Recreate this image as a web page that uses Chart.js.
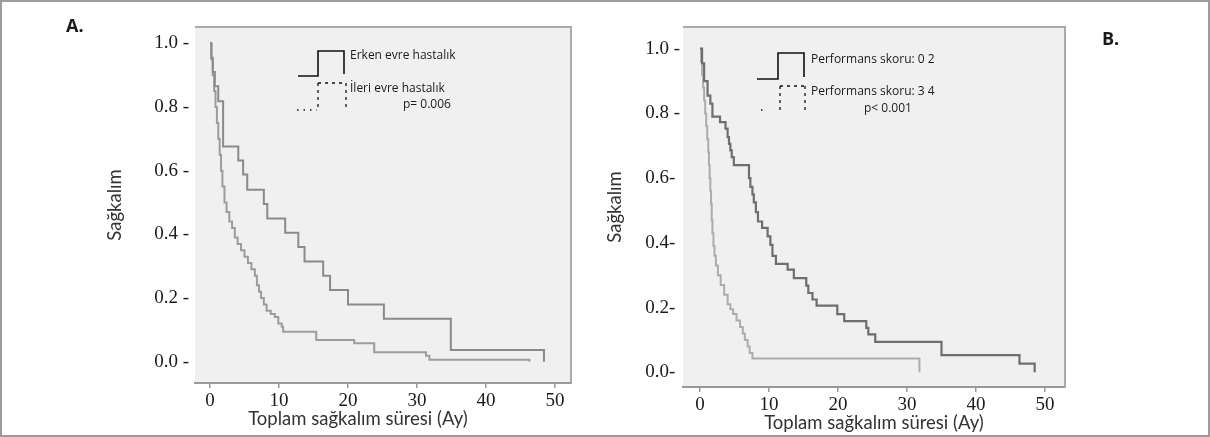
<!DOCTYPE html>
<html><head><meta charset="utf-8">
<script src="https://cdn.jsdelivr.net/npm/chart.js@4.4.1/dist/chart.umd.min.js"></script>
<style>
html,body{margin:0;padding:0;background:#fff;}
#wrap{position:relative;width:1210px;height:437px;overflow:hidden;background:#fff;}
#frame{position:absolute;left:0;top:0;width:1210px;height:437px;box-sizing:border-box;border:2px solid #9c9c9c;pointer-events:none;}
canvas{position:absolute;top:0;}
</style></head><body>
<div id="wrap">
<canvas id="cA" width="600" height="437" style="left:0px"></canvas>
<canvas id="cB" width="615" height="437" style="left:595px"></canvas>
<div id="frame"></div>
</div>
<script>
// ---------- data ----------
const xTicks = [0, 10, 20, 30, 40, 50];
const xTickLabels = ["0", "10", "20", "30", "40", "50"];
const yTicks = [0, 0.2, 0.4, 0.6, 0.8, 1.0];
const yTickLabelsA = ["0.0 -", "0.2 -", "0.4 -", "0.6 -", "0.8 -", "1.0 -"];
const yTickLabelsB = ["0.0- ", "0.2- ", "0.4- ", "0.6- ", "0.8 -", "1.0 -"];

// Panel A: Erken evre hastalık
const earlyTime = [0, 0.2, 0.4, 0.7, 1.2, 1.9, 4.1, 4.8, 5.4, 7.8, 8.3, 10.9, 12.8, 13.7, 16.4, 17.4, 20.0, 25.2, 34.9, 48.4];
const earlySurv = [1.0, 0.955, 0.91, 0.865, 0.818, 0.676, 0.632, 0.588, 0.54, 0.495, 0.45, 0.405, 0.36, 0.315, 0.27, 0.225, 0.18, 0.135, 0.037, 0.0];
// Panel A: İleri evre hastalık
const lateTime = [0, 0.2, 0.4, 0.6, 0.8, 1.0, 1.2, 1.4, 1.6, 1.8, 2.1, 2.4, 2.8, 3.2, 3.6, 4.0, 4.5, 5.0, 5.5, 6.0, 6.5, 6.8, 7.1, 7.4, 7.8, 8.2, 8.8, 9.4, 9.9, 10.4, 10.6, 15.4, 20.9, 23.8, 31.3, 31.8, 46.3];
const lateSurv = [1.0, 0.95, 0.9, 0.85, 0.8, 0.75, 0.7, 0.65, 0.6, 0.55, 0.5, 0.47, 0.44, 0.42, 0.39, 0.37, 0.35, 0.33, 0.31, 0.29, 0.27, 0.24, 0.22, 0.2, 0.18, 0.16, 0.15, 0.14, 0.12, 0.11, 0.094, 0.068, 0.058, 0.03, 0.019, 0.006, 0.0];

// Panel B: Performans skoru 0-2
const ps02Time = [0, 0.3, 0.6, 1.1, 1.5, 1.8, 2.9, 3.7, 4.0, 4.2, 4.4, 4.6, 4.9, 7.1, 7.3, 7.6, 7.8, 8.1, 8.4, 9.0, 9.8, 10.2, 10.5, 11.0, 12.7, 13.6, 15.4, 15.7, 16.3, 16.9, 19.9, 20.9, 24.1, 24.4, 25.4, 35.0, 46.3, 48.5];
const ps02Surv = [1.0, 0.955, 0.9, 0.855, 0.83, 0.79, 0.773, 0.753, 0.727, 0.706, 0.686, 0.665, 0.64, 0.6, 0.573, 0.55, 0.525, 0.495, 0.466, 0.446, 0.42, 0.394, 0.36, 0.335, 0.317, 0.291, 0.268, 0.245, 0.225, 0.206, 0.18, 0.158, 0.137, 0.117, 0.094, 0.053, 0.027, 0.0];
// Panel B: Performans skoru 3-4
const ps34Time = [0, 0.15, 0.3, 0.45, 0.6, 0.75, 0.9, 1.05, 1.2, 1.3, 1.4, 1.5, 1.6, 1.7, 1.8, 1.95, 2.1, 2.3, 2.6, 3.0, 3.5, 4.0, 4.4, 4.8, 5.3, 5.8, 6.2, 6.5, 6.9, 7.2, 7.6, 31.8];
const ps34Surv = [1.0, 0.96, 0.92, 0.88, 0.84, 0.8, 0.76, 0.72, 0.68, 0.64, 0.6, 0.56, 0.52, 0.47, 0.43, 0.39, 0.36, 0.33, 0.3, 0.27, 0.24, 0.21, 0.195, 0.18, 0.16, 0.14, 0.12, 0.1, 0.08, 0.06, 0.043, 0.0];

const legendA = ["Erken evre hastalık", "İleri evre hastalık", "p= 0.006"];
const legendB = ["Performans skoru: 0 2", "Performans skoru: 3 4", "p< 0.001"];
const axisTitleY = "Sağkalım";
const axisTitleX = "Toplam sağkalım süresi (Ay)";

// ---------- helpers ----------
const pts = (t, s) => t.map((v, i) => ({ x: v, y: s[i] }));
const TICK_FONT = { family: '"Liberation Serif", "Times New Roman", serif', size: 19 };
const TITLE_FONT = { family: 'Lato, "Open Sans", sans-serif', size: 18.5 };
const LEG_FONT = '12px "Open Sans"';

// decorations (page coordinates; converted by canvas offset)
const decorSpec = {
  cA: {
    ox: 0,
    solid: [[298, 76], [318, 76], [318, 51], [344, 51], [344, 74]],
    dashed: [[[318, 83], [346, 83]], [[318, 83], [318, 110]], [[346, 83], [346, 110]]],
    dotted: [[[297, 110], [317, 110]]],
    texts: [
      { t: legendA[0], x: 350, y: 59, font: LEG_FONT, align: 'left' },
      { t: legendA[1], x: 350, y: 92, font: LEG_FONT, align: 'left' },
      { t: legendA[2], x: 403, y: 108, font: LEG_FONT, align: 'left' },
      { t: "A.", x: 66, y: 32, font: 'bold 18px "Open Sans"', align: 'left' },
      { t: axisTitleX, x: 358, y: 425, font: '18.5px Lato', align: 'center', color: '#333' }
    ]
  },
  cB: {
    ox: 595,
    solid: [[757, 79], [778, 79], [778, 53], [804, 53], [804, 77]],
    dashed: [[[780, 86], [805, 86]], [[780, 86], [780, 110]], [[805, 86], [805, 110]]],
    dotted: [[[761, 110], [763, 110]]],
    texts: [
      { t: legendB[0], x: 811, y: 63, font: LEG_FONT, align: 'left' },
      { t: legendB[1], x: 811, y: 95, font: LEG_FONT, align: 'left' },
      { t: legendB[2], x: 864, y: 112, font: LEG_FONT, align: 'left' },
      { t: "B.", x: 1102, y: 45, font: 'bold 18px "Open Sans"', align: 'left' }
    ]
  }
};

const decor = {
  id: 'decor',
  beforeDraw(chart) {
    const { ctx, chartArea: { left, top, right, bottom } } = chart;
    ctx.save();
    ctx.fillStyle = '#f0f0f0';
    ctx.fillRect(left, top, right - left, bottom - top);
    ctx.strokeStyle = '#aaaaaa';
    ctx.lineWidth = 2;
    ctx.beginPath();
    ctx.moveTo(left, top); ctx.lineTo(right, top); ctx.lineTo(right, bottom);
    ctx.stroke();
    ctx.restore();
  },
  afterDraw(chart) {
    const spec = decorSpec[chart.canvas.id];
    const ctx = chart.ctx, ox = spec.ox;
    ctx.save();
    ctx.strokeStyle = '#111';
    ctx.lineWidth = 1.6;
    ctx.setLineDash([]);
    ctx.beginPath();
    spec.solid.forEach((p, i) => i ? ctx.lineTo(p[0] - ox, p[1]) : ctx.moveTo(p[0] - ox, p[1]));
    ctx.stroke();
    ctx.lineWidth = 1.3;
    ctx.setLineDash([3, 4]);
    spec.dashed.forEach(s => { ctx.beginPath(); ctx.moveTo(s[0][0] - ox, s[0][1]); ctx.lineTo(s[1][0] - ox, s[1][1]); ctx.stroke(); });
    ctx.setLineDash([1.5, 5]);
    spec.dotted.forEach(s => { ctx.beginPath(); ctx.moveTo(s[0][0] - ox, s[0][1]); ctx.lineTo(s[1][0] - ox, s[1][1]); ctx.stroke(); });
    ctx.setLineDash([]);
    ctx.textBaseline = 'alphabetic';
    spec.texts.forEach(o => {
      ctx.font = o.font; ctx.fillStyle = o.color || '#1a1a1a'; ctx.textAlign = o.align;
      ctx.fillText(o.t, o.x - ox, o.y);
    });
    ctx.restore();
  }
};

function makeChart(id, cfg) {
  return new Chart(document.getElementById(id), {
    type: 'line',
    data: { datasets: cfg.datasets },
    options: {
      responsive: false, animation: false, devicePixelRatio: 1,
      layout: { padding: cfg.pad },
      plugins: { legend: { display: false }, tooltip: { enabled: false }, title: { display: false } },
      elements: { point: { radius: 0 }, line: { tension: 0 } },
      scales: {
        x: {
          type: 'linear', min: cfg.xMin, max: cfg.xMax,
          afterBuildTicks: s => { s.ticks = xTicks.map(v => ({ value: v })); },
          afterFit: s => { s.height = cfg.xHeight; },
          grid: { drawOnChartArea: false, drawTicks: true, tickLength: 5, color: '#999', lineWidth: 1.5 },
          border: { display: true, color: '#999', width: 2 },
          ticks: { callback: (v, i) => xTickLabels[i], font: TICK_FONT, color: '#1a1a1a', padding: cfg.xPad, maxRotation: 0, autoSkip: false },
          title: cfg.xTitle
        },
        y: {
          type: 'linear', min: cfg.yMin, max: cfg.yMax,
          afterBuildTicks: s => { s.ticks = yTicks.map(v => ({ value: v })); },
          afterFit: s => { s.width = cfg.yWidth; },
          grid: { display: false, drawTicks: false },
          border: { display: false },
          ticks: { callback: (v, i) => cfg.yLabels[i], font: TICK_FONT, color: '#1a1a1a', crossAlign: 'near', padding: cfg.yPad, autoSkip: false },
          title: { display: true, text: axisTitleY, font: TITLE_FONT, color: '#333', padding: { top: 3, bottom: 0 } }
        }
      }
    },
    plugins: [decor]
  });
}

// Panel A
makeChart('cA', {
  datasets: [
    { label: legendA[0], data: pts(earlyTime, earlySurv), stepped: true, borderColor: '#8a8a8a', borderWidth: 2, fill: false },
    { label: legendA[1], data: pts(lateTime, lateSurv), stepped: true, borderColor: '#9c9c9c', borderWidth: 2, fill: false }
  ],
  pad: { left: 101, right: 29, top: 27, bottom: 0 },
  xMin: -15 / 6.9, xMax: (571 - 210) / 6.9,
  yMin: (361.7 - 383) / 318.4, yMax: (361.7 - 27) / 318.4,
  xHeight: 437 - 383, yWidth: 195 - 101,
  xPad: 2, yPad: 6,
  yLabels: yTickLabelsA,
  xTitle: { display: false }
});

// Panel B
makeChart('cB', {
  datasets: [
    { label: legendB[0], data: pts(ps02Time, ps02Surv), stepped: true, borderColor: '#6e6e6e', borderWidth: 2.2, fill: false },
    { label: legendB[1], data: pts(ps34Time, ps34Surv), stepped: true, borderColor: '#acacac', borderWidth: 2, fill: false }
  ],
  pad: { left: 6, right: 145, top: 27, bottom: 0 },
  xMin: (683 - 700) / 6.9, xMax: (1065 - 700) / 6.9,
  yMin: (372.3 - 387) / 323.6, yMax: (372.3 - 27) / 323.6,
  xHeight: 437 - 387, yWidth: 88 - 6,
  xPad: 2, yPad: 3,
  yLabels: yTickLabelsB,
  xTitle: { display: true, text: axisTitleX, font: TITLE_FONT, color: '#333', padding: { top: 0, bottom: 3 } }
});
</script>
</body></html>
